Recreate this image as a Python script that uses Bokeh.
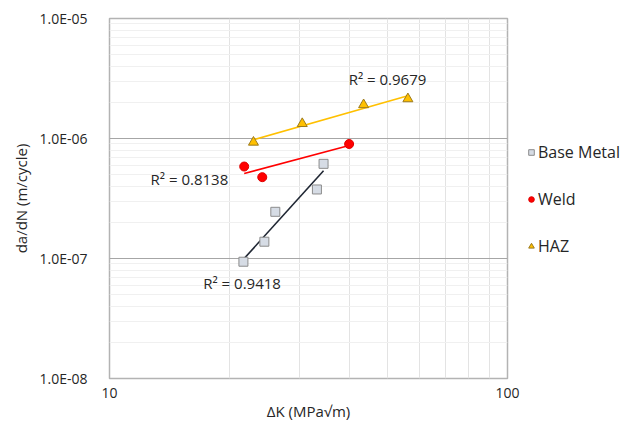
import numpy as np
from bokeh.plotting import figure
from bokeh.models import Range1d, FixedTicker, CustomJSTickFormatter, Legend, LegendItem
from bokeh.core.properties import value
from bokeh.embed import file_html
from bokeh.resources import INLINE

# ---------------- data ----------------
series_names = ["Base Metal", "Weld", "HAZ"]
base_dk = [21.7, 24.5, 26.1, 33.2, 34.5]
base_dadn = [9.4e-8, 1.38e-7, 2.45e-7, 3.76e-7, 6.15e-7]
weld_dk = [21.8, 24.2, 40.0]
weld_dadn = [5.84e-7, 4.76e-7, 9.0e-7]
haz_dk = [23.0, 30.5, 43.5, 56.2]
haz_dadn = [9.3e-7, 1.33e-6, 1.91e-6, 2.14e-6]
r2_labels = ["R² = 0.9418", "R² = 0.8138", "R² = 0.9679"]
x_ticks = [10, 100]
x_tick_labels = ["10", "100"]
x_minor = [20, 30, 40, 50, 60, 70, 80, 90]
y_ticks = [1e-8, 1e-7, 1e-6, 1e-5]
y_tick_labels = ["1.0E-08", "1.0E-07", "1.0E-06", "1.0E-05"]
y_minor = [m * 10.0 ** e for e in (-8, -7, -6) for m in range(2, 10)]

# ---------------- layout / style ----------------
FONT = "Open Sans"
TXT = "#262626"
label_pos_x = [17.2, 12.68, 39.9]
label_pos_y = [6.19e-8, 4.64e-7, 3.16e-6]

p = figure(frame_width=398, frame_height=360, x_axis_type="log", y_axis_type="log",
           x_range=Range1d(10, 100), y_range=Range1d(1e-8, 1e-5),
           output_backend="svg", toolbar_location=None,
           min_border_left=109, min_border_right=121, min_border_top=18,
           min_border_bottom=43, background_fill_color="white",
           border_fill_color="white", outline_line_color="#b3b3b3",
           outline_line_width=1.5)

fmt_code = """
let best = 0, bd = Infinity;
for (let i = 0; i < tvals.length; i++) {
  const d = Math.abs(Math.log10(tick) - Math.log10(tvals[i]));
  if (d < bd) { bd = d; best = i; }
}
return tlabels[best];
"""
p.xaxis.ticker = FixedTicker(ticks=x_ticks, minor_ticks=x_minor)
p.yaxis.ticker = FixedTicker(ticks=y_ticks, minor_ticks=y_minor)
p.xaxis.formatter = CustomJSTickFormatter(args=dict(tvals=x_ticks, tlabels=x_tick_labels), code=fmt_code)
p.yaxis.formatter = CustomJSTickFormatter(args=dict(tvals=y_ticks, tlabels=y_tick_labels), code=fmt_code)

for ax in (p.xaxis, p.yaxis):
    ax.axis_line_color = None
    ax.major_tick_line_color = None
    ax.minor_tick_line_color = None
    ax.major_label_text_font = FONT
    ax.major_label_text_font_size = "14px"
    ax.major_label_text_color = TXT
    ax.axis_label_text_font = FONT
    ax.axis_label_text_font_size = "15px"
    ax.axis_label_text_font_style = "normal"
    ax.axis_label_text_color = TXT

p.xaxis.axis_label = "ΔK (MPa√m)"
p.yaxis.axis_label = "da/dN (m/cycle)"
p.xaxis.major_label_standoff = 3
p.xaxis.axis_label_standoff = 0
p.yaxis.major_label_standoff = 16
p.yaxis.axis_label_standoff = 6

p.xgrid.grid_line_color = "#d9d9d9"
p.xgrid.minor_grid_line_color = "#e3e3e3"
p.ygrid.grid_line_color = "#a6a6a6"
p.ygrid.minor_grid_line_color = "#f0f0f0"

# trendlines (power fit, least squares in log space)
def power_fit(xs, ys):
    lx, ly = np.log10(xs), np.log10(ys)
    b, a = np.polyfit(lx, ly, 1)
    xx = np.array([min(xs), max(xs)])
    return xx, 10 ** (a + b * np.log10(xx))

for xs, ys, col in ((haz_dk, haz_dadn, "#ffc000"),
                    (weld_dk, weld_dadn, "#ff0000"),
                    (base_dk, base_dadn, "#1f2633")):
    xx, yy = power_fit(xs, ys)
    p.line(xx, yy, line_color=col, line_width=1.6)

r_base = p.scatter(base_dk, base_dadn, marker="square", size=9,
                   fill_color="#d6dce5", line_color="#8c8c8c", line_width=1)
r_weld = p.scatter(weld_dk, weld_dadn, marker="circle", size=9,
                   fill_color="#ff0000", line_color="#e00000", line_width=1)
r_haz = p.scatter(haz_dk, haz_dadn, marker="triangle", size=10,
                  fill_color="#ffc000", line_color="#9c7a1c", line_width=1)

p.text(x=label_pos_x, y=label_pos_y, text=r2_labels,
       text_font=value(FONT), text_font_size="15px", text_color=TXT,
       text_align="left", text_baseline="middle")

legend = Legend(items=[LegendItem(label=series_names[0], renderers=[r_base]),
                       LegendItem(label=series_names[1], renderers=[r_weld]),
                       LegendItem(label=series_names[2], renderers=[r_haz])],
                location=(17, 121), orientation="vertical",
                padding=0, margin=0, spacing=25,
                glyph_width=14, glyph_height=20, label_height=20,
                label_standoff=0, label_text_font=FONT,
                label_text_font_size="16px", label_text_color=TXT,
                border_line_color=None, background_fill_alpha=0)
p.add_layout(legend, "right")

open("out.html", "w").write(file_html(p, INLINE))
